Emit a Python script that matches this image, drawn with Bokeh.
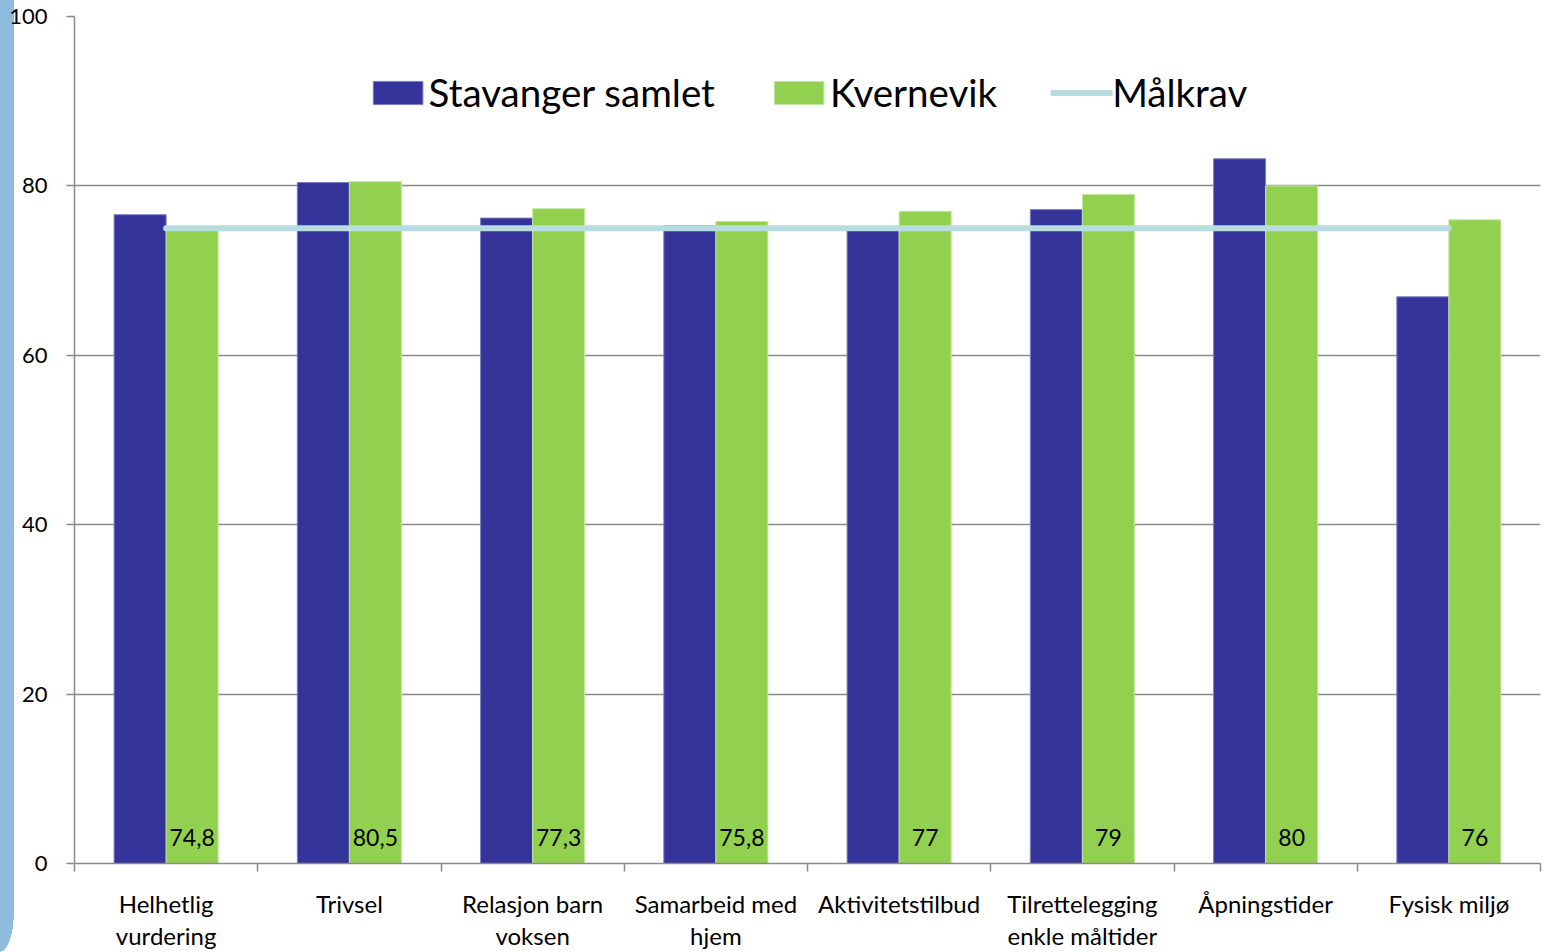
from bokeh.plotting import figure
from bokeh.models import FixedTicker, Legend, LegendItem, ColumnDataSource
from bokeh.embed import file_html
from bokeh.resources import INLINE

# ---- data ----
categories = ["Helhetlig\nvurdering", "Trivsel", "Relasjon barn\nvoksen", "Samarbeid med\nhjem",
              "Aktivitetstilbud", "Tilrettelegging\nenkle måltider", "Åpningstider", "Fysisk miljø"]
stavanger = [76.6, 80.4, 76.2, 75.3, 75.2, 77.2, 83.2, 66.9]
kvernevik = [74.8, 80.5, 77.3, 75.8, 77.0, 79.0, 80.0, 76.0]
malkrav = [75, 75, 75, 75, 75, 75, 75, 75]
yticks = [0, 20, 40, 60, 80, 100]

FONT = "Lato"
BLUE = "#35349a"
GREEN = "#92d050"
TARGET = "#b7dde1"
GRAY = "#8a8a8a"
STRIP = "#8dbcdc"

n = len(categories)
centers = [i + 0.5 for i in range(n)]
bw = 0.284
src = ColumnDataSource(dict(
    xb=[c - bw / 2 for c in centers],
    xg=[c + bw / 2 for c in centers],
    xc=centers,
    st=stavanger,
    kv=kvernevik,
    mk=malkrav,
    lbl=[f"{v:g}".replace(".", ",") for v in kvernevik],
    zero=[0] * n,
))

p = figure(width=1548, height=952, x_range=(0, n), y_range=(0, 100),
           output_backend="svg", toolbar_location=None,
           min_border_left=74, min_border_right=8, min_border_top=16, min_border_bottom=89)
p.outline_line_color = None
p.background_fill_color = "white"
p.border_fill_alpha = 0
# decorative light-blue strip at the page's left edge (page background behind the transparent border)
p.styles = {
    "background": (f"radial-gradient(ellipse 14px 40px at 0 0, {STRIP} 98%, transparent 100%) 0 912px / 14px 40px no-repeat, "
                   f"linear-gradient({STRIP}, {STRIP}) 0 0 / 14px 912px no-repeat, white"),
}

r1 = p.vbar(x="xb", top="st", width=bw, source=src, fill_color=BLUE, line_color="#7e7ec4", line_width=1)
r2 = p.vbar(x="xg", top="kv", width=bw, source=src, fill_color=GREEN, line_color="#c4e6a4", line_width=1)
r3 = p.line(x="xc", y="mk", source=src, line_color=TARGET, line_width=6, line_cap="round")

p.text(x="xg", y="zero", text="lbl", source=src, text_align="center", text_baseline="middle",
       y_offset=-26, text_font_size="23px", text_font={"value": FONT}, text_color="black")

# grid
p.xgrid.visible = False
p.ygrid.ticker = FixedTicker(ticks=yticks)
p.ygrid.grid_line_color = GRAY
p.ygrid.grid_line_width = 1.5

# y axis
ya = p.yaxis[0]
ya.ticker = FixedTicker(ticks=yticks, minor_ticks=[])
ya.axis_line_color = GRAY
ya.axis_line_width = 1.5
ya.major_tick_line_color = GRAY
ya.major_tick_line_width = 1.5
ya.major_tick_out = 8
ya.major_tick_in = 0
ya.minor_tick_out = 0
ya.minor_tick_in = 0
ya.major_label_standoff = 19
ya.major_label_text_font = FONT
ya.major_label_text_font_size = "22px"
ya.major_label_text_color = "black"

# x axis
xa = p.xaxis[0]
xa.ticker = FixedTicker(ticks=centers, minor_ticks=list(range(n + 1)))
xa.major_label_overrides = {c: lab for c, lab in zip(centers, categories)}
xa.axis_line_color = GRAY
xa.axis_line_width = 1.5
xa.major_tick_out = 0
xa.major_tick_in = 0
xa.minor_tick_out = 8
xa.minor_tick_in = 0
xa.minor_tick_line_color = GRAY
xa.minor_tick_line_width = 1.5
xa.major_label_standoff = 17
xa.major_label_text_font = FONT
xa.major_label_text_font_size = "24px"
xa.major_label_text_line_height = 1.11
xa.major_label_text_color = "black"

legend = Legend(items=[LegendItem(label="Stavanger samlet", renderers=[r1]),
                       LegendItem(label="Kvernevik", renderers=[r2]),
                       LegendItem(label="Målkrav", renderers=[r3])],
                orientation="horizontal", location="top_center",
                label_text_font=FONT, label_text_font_size="38.5px", label_text_color="black",
                glyph_width=62, glyph_height=29, label_standoff=0, spacing=53,
                padding=0, margin=53, border_line_color=None, background_fill_alpha=0)
p.add_layout(legend)

open("out.html", "w").write(file_html(p, INLINE))
